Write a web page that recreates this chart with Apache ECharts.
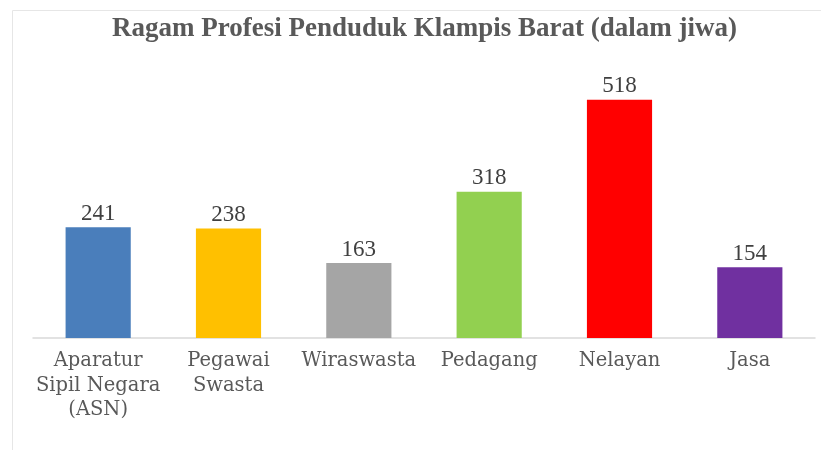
<!DOCTYPE html>
<html><head><meta charset="utf-8">
<script src="https://cdn.jsdelivr.net/npm/echarts@6/dist/echarts.min.js"></script>
<style>html,body{margin:0;padding:0;background:#fff}#c{width:821px;height:450px}</style>
</head><body><div id="c"></div>
<script>
const categories = ['Aparatur\nSipil Negara\n(ASN)', 'Pegawai\nSwasta', 'Wiraswasta', 'Pedagang', 'Nelayan', 'Jasa'];
const values = [241, 238, 163, 318, 518, 154];
const colors = ['#4a7ebb', '#ffc000', '#a5a5a5', '#92d050', '#ff0000', '#7030a0'];
const chart = echarts.init(document.getElementById('c'));
chart.setOption({
  animation: false,
  title: {text: 'Ragam Profesi Penduduk Klampis Barat (dalam jiwa)', left: 107, top: 11,
    textStyle: {fontFamily: 'Liberation Serif', fontWeight: 'bold', fontSize: 27, color: '#595959'}},
  graphic: [
    {type: 'line', shape: {x1: 12.5, y1: 10.5, x2: 821, y2: 10.5}, style: {stroke: '#e6e6e6', lineWidth: 1}},
    {type: 'line', shape: {x1: 12.5, y1: 10.5, x2: 12.5, y2: 450}, style: {stroke: '#e6e6e6', lineWidth: 1}}
  ],
  grid: {left: 33, right: 6, top: 62, bottom: 112},
  xAxis: {type: 'category', data: categories,
    axisLine: {lineStyle: {color: '#d9d9d9', width: 1.5}}, axisTick: {show: false},
    axisLabel: {fontFamily: 'DejaVu Serif', fontSize: 19.5, color: '#595959', lineHeight: 24.5, margin: 11, interval: 0}},
  yAxis: {type: 'value', min: 0, max: 600, show: false, splitLine: {show: false}},
  series: [{type: 'bar', barWidth: '50%',
    data: values.map((v, i) => ({value: v, itemStyle: {color: colors[i]}})),
    label: {show: true, position: 'top', distance: 2, fontFamily: 'Liberation Serif', fontSize: 23, color: '#404040'}}]
});
</script></body></html>
